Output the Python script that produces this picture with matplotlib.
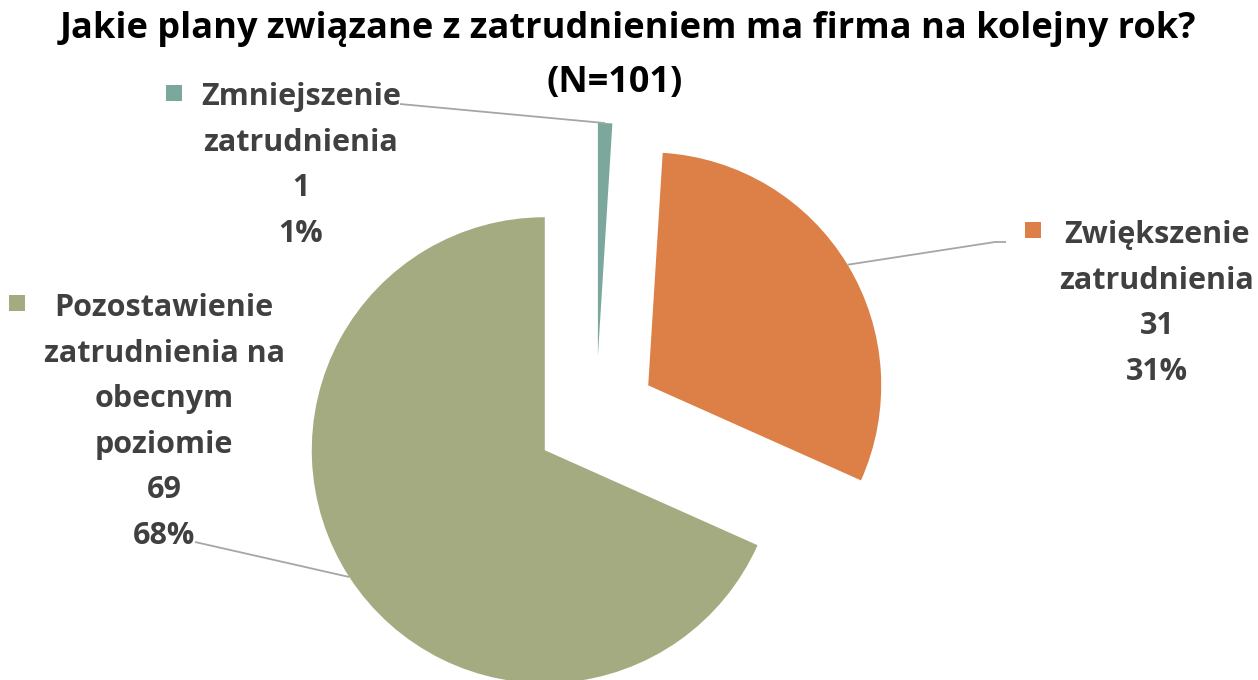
import matplotlib.pyplot as plt
import numpy as np

# ---- data ----
categories = ["Zmniejszenie zatrudnienia", "Zwiększenie zatrudnienia",
              "Pozostawienie zatrudnienia na obecnym poziomie"]
values = [1, 31, 69]
percent_labels = ["1%", "31%", "68%"]
label_lines = [["Zmniejszenie", "zatrudnienia"],
               ["Zwiększenie", "zatrudnienia"],
               ["Pozostawienie", "zatrudnienia na", "obecnym", "poziomie"]]
colors = ["#7BA79D", "#DD8047", "#A5AB81"]
title = "Jakie plany związane z zatrudnieniem ma firma na kolejny rok?\n(N=101)"

W, H = 1258, 680
FONT = ["Open Sans", "DejaVu Sans"]
TXT = "#404040"

fig = plt.figure(figsize=(W / 100, H / 100), dpi=100)
ax = fig.add_axes([0, 0, 1, 1])

R = 233
center = (596, H - 417)
explode_frac = 0.262
wedges, _ = ax.pie(values, colors=colors, startangle=90, counterclock=False,
                   radius=R, center=center,
                   explode=[explode_frac * R] * len(values), frame=True,
                   wedgeprops=dict(linewidth=0))
ax.set_xlim(0, W)
ax.set_ylim(0, H)
ax.set_aspect("equal")
ax.axis("off")

# label layout (x center, first baseline from top, marker pos, leader path)
label_x = [301, 1157, 164]
label_base = [105, 243, 316]
line_gap = 45.6
marker_pos = [(174, 93), (1033, 230), (17, 303)]
leader_end = [[(400, 104)], [(1006, 242), (995, 242)], [(195, 542)]]

for i, w in enumerate(wedges):
    lines = label_lines[i] + [str(values[i]), percent_labels[i]]
    for k, ln in enumerate(lines):
        ax.text(label_x[i], H - (label_base[i] + k * line_gap), ln,
                ha="center", va="baseline", fontsize=22, fontweight="bold",
                color=TXT, family=FONT)
    ax.plot([marker_pos[i][0]], [H - marker_pos[i][1]], marker="s",
            markersize=12, color=colors[i], markeredgewidth=0)
    # leader line to wedge arc midpoint
    th = np.deg2rad((w.theta1 + w.theta2) / 2)
    cx, cy = w.center
    px, py = cx + w.r * np.cos(th), cy + w.r * np.sin(th)
    pts = [(x, H - y) for x, y in leader_end[i]] + [(px, py)]
    ax.plot([p[0] for p in pts], [p[1] for p in pts], color="#A6A6A6",
            linewidth=1.3, solid_capstyle="butt")

t1, t2 = title.split("\n")
ax.text(628, H - 38, t1, ha="center", va="baseline", fontsize=26,
        fontweight="bold", color="black", family=FONT)
ax.text(615, H - 92, t2, ha="center", va="baseline", fontsize=26,
        fontweight="bold", color="black", family=FONT)

fig.savefig("out.png", dpi=100, facecolor="white")
